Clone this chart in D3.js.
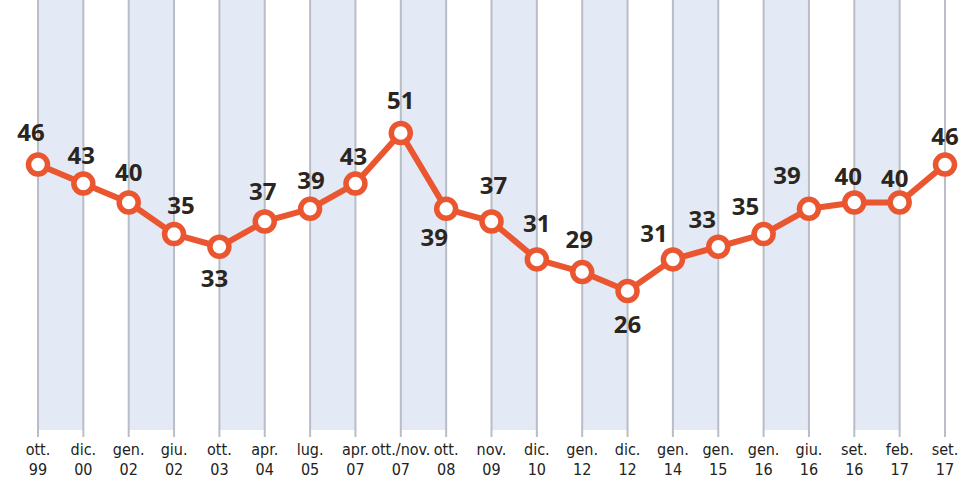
<!DOCTYPE html>
<html>
<head>
<meta charset="utf-8">
<script src="https://cdn.jsdelivr.net/npm/d3@7"></script>
<style>
  body { margin: 0; background: #fff; }
  svg { display: block; }
</style>
</head>
<body>
<div id="chart"></div>
<script>
// survey dates (two-line tick labels) and values
var months = ["ott.", "dic.", "gen.", "giu.", "ott.", "apr.", "lug.", "apr.", "ott./nov.", "ott.", "nov.",
              "dic.", "gen.", "dic.", "gen.", "gen.", "gen.", "giu.", "set.", "feb.", "set."];
var years = ["99", "00", "02", "02", "03", "04", "05", "07", "07", "08", "09",
             "10", "12", "12", "14", "15", "16", "16", "16", "17", "17"];
var values = [46, 43, 40, 35, 33, 37, 39, 43, 51, 39, 37, 31, 29, 26, 31, 33, 35, 39, 40, 40, 46];
// label nudges [dx, dy] relative to each point
var labelNudge = [[-7, -24], [-2, -20], [0, -22], [7, -20], [-5, 40], [-2, -21], [1, -20], [-2, -19],
                  [0, -24], [-12, 37], [2, -27], [0, -27], [-3, -24], [0, 42], [-19, -17], [-16, -19],
                  [-18, -19], [-22, -25], [-6, -18], [-5, -16], [0, -20]];

var width = 965,
    height = 480;

var svg = d3.select("#chart").append("svg")
    .attr("width", width)
    .attr("height", height);

var x = d3.scaleLinear()
    .domain([0, values.length - 1])
    .range([38, 945]);

var y = d3.scaleLinear()
    .domain([26, 51])
    .range([291, 133]);

var idx = d3.range(values.length);

// alternating bands
svg.selectAll("rect.band")
    .data(idx.slice(0, -1).filter(function(i) { return i % 2 === 0; }))
  .enter().append("rect")
    .attr("class", "band")
    .attr("x", function(i) { return x(i); })
    .attr("y", 0)
    .attr("width", function(i) { return x(i + 1) - x(i); })
    .attr("height", 430)
    .attr("fill", "#e3e9f5");

// vertical grid lines
svg.selectAll("line.grid")
    .data(idx)
  .enter().append("line")
    .attr("class", "grid")
    .attr("x1", function(i) { return x(i); })
    .attr("x2", function(i) { return x(i); })
    .attr("y1", 0)
    .attr("y2", 437)
    .attr("stroke", "#b9bdc5")
    .attr("stroke-width", 2);

// tick labels, month on top, year below
function tickRow(cls, texts, yPos) {
  svg.selectAll("text." + cls)
      .data(idx)
    .enter().append("text")
      .attr("class", cls)
      .attr("x", function(i) { return x(i); })
      .attr("y", yPos)
      .attr("text-anchor", "middle")
      .attr("font-family", "'DejaVu Sans Condensed', 'DejaVu Sans', sans-serif")
      .attr("font-stretch", "condensed")
      .attr("font-size", 16)
      .attr("fill", "#222")
      .text(function(i) { return texts[i]; });
}
tickRow("month", months, 455);
tickRow("year", years, 475);

// line
var line = d3.line()
    .x(function(i) { return x(i); })
    .y(function(i) { return y(values[i]); });

svg.append("path")
    .datum(idx)
    .attr("d", line)
    .attr("fill", "none")
    .attr("stroke", "#ea5630")
    .attr("stroke-width", 6)
    .attr("stroke-linejoin", "round");

svg.selectAll("circle.pt")
    .data(idx)
  .enter().append("circle")
    .attr("class", "pt")
    .attr("cx", function(i) { return x(i); })
    .attr("cy", function(i) { return y(values[i]); })
    .attr("r", 9.5)
    .attr("fill", "#fff")
    .attr("stroke", "#ea5630")
    .attr("stroke-width", 5.5);

// value labels
svg.selectAll("text.val")
    .data(idx)
  .enter().append("text")
    .attr("class", "val")
    .attr("x", function(i) { return x(i) + labelNudge[i][0]; })
    .attr("y", function(i) { return y(values[i]) + labelNudge[i][1]; })
    .attr("text-anchor", "middle")
    .attr("font-family", "'Open Sans', sans-serif")
    .attr("font-weight", "bold")
    .attr("font-size", 24)
    .attr("fill", "#2a2520")
    .text(function(i) { return values[i]; });
</script>
</body>
</html>
